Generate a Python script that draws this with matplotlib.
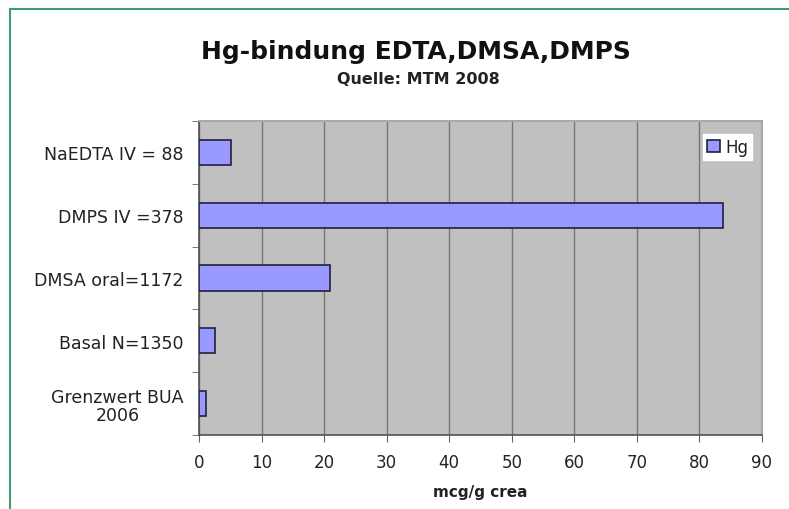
import numpy as np
import matplotlib
matplotlib.use('Agg')
import matplotlib.pyplot as plt
from matplotlib.lines import Line2D

plt.rcParams['font.family'] = ['DejaVu Sans']

# categories from bottom to top
categories = ['Grenzwert BUA\n2006', 'Basal N=1350', 'DMSA oral=1172',
              'DMPS IV =378', 'NaEDTA IV = 88']
hg_values = [1.1, 2.6, 20.9, 83.8, 5.1]
x_ticks = list(range(0, 91, 10))

fig = plt.figure(figsize=(7.89, 5.1), dpi=100)
ax = fig.add_axes([199 / 789, 1 - 436 / 510, 563 / 789, 314 / 510])

pos = np.arange(len(categories))
ax.barh(pos, hg_values, height=0.4, color='#9999ff', edgecolor='#202040',
        linewidth=1.2, label='Hg', zorder=3)

ax.set_facecolor('#c0c0c0')
ax.set_xlim(0, 90)
ax.set_ylim(-0.5, len(categories) - 0.5)
ax.set_xticks(x_ticks)
ax.set_xticklabels([str(t) for t in x_ticks], fontsize=12, color='#222222')
ax.set_yticks(pos)
ax.set_yticklabels(categories, fontsize=12.5, color='#222222',
                   multialignment='center', linespacing=1.05)
ax.tick_params(axis='y', length=0, pad=11)
ax.set_yticks(np.arange(-0.5, len(categories), 1), minor=True)
ax.tick_params(axis='y', which='minor', length=5, color='#606060')
ax.tick_params(axis='x', length=5, color='#606060', pad=8)

ax.grid(axis='x', color='#777777', linewidth=1, zorder=1)
ax.set_axisbelow(True)
for s in ['top', 'right']:
    ax.spines[s].set_color('#a8a8a8')
    ax.spines[s].set_linewidth(1.5)
for s in ['left', 'bottom']:
    ax.spines[s].set_color('#505050')
    ax.spines[s].set_linewidth(1.2)

ax.set_xlabel('mcg/g crea', fontsize=11, fontweight='bold', labelpad=9.5,
              color='#222222')

leg = ax.legend(loc='upper right', bbox_to_anchor=(0.983, 0.96), fontsize=12,
                frameon=True, fancybox=False, framealpha=1, handlelength=0.8,
                handleheight=0.8, handletextpad=0.3, borderpad=0.25,
                borderaxespad=0)
leg.get_frame().set_facecolor('white')
leg.get_frame().set_edgecolor('white')
for t in leg.get_texts():
    t.set_color('#222222')

fig.text(416 / 789, 1 - 52 / 510, 'Hg-bindung EDTA,DMSA,DMPS',
         ha='center', va='center', fontsize=18, fontweight='bold',
         color='#111111')
fig.text(418 / 789, 1 - 80 / 510, 'Quelle: MTM 2008',
         ha='center', va='center', fontsize=11.5, fontweight='bold',
         color='#222222')

# green page frame
fig.add_artist(Line2D([10 / 789, 1], [1 - 10 / 510, 1 - 10 / 510],
                      color='#3f9a78', linewidth=1.5))
fig.add_artist(Line2D([10 / 789, 10 / 789], [0, 1 - 10 / 510],
                      color='#3f9a78', linewidth=1.5))

fig.savefig('out.png', dpi=100)
